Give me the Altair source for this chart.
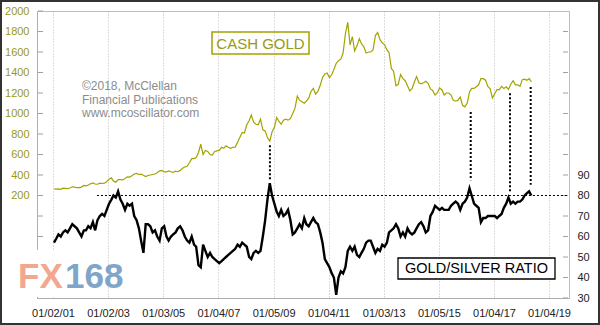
import altair as alt
import pandas as pd

# Monthly values, Jan 2001 .. May 2018
gold_prices = [
    266, 262, 264, 260, 272, 270, 267, 273, 285, 282, 276, 277,
    282, 298, 294, 303, 315, 322, 312, 310, 320, 317, 320, 335,
    358, 372, 340, 330, 356, 355, 352, 365, 382, 380, 392, 410,
    415, 405, 408, 398, 385, 395, 400, 405, 410, 422, 440, 445,
    430, 430, 440, 432, 425, 437, 432, 445, 465, 478, 485, 520,
    560, 560, 570, 620, 700, 600, 640, 630, 600, 595, 630, 635,
    640, 670, 660, 685, 670, 660, 670, 672, 720, 765, 815, 810,
    890, 930, 985, 915, 895, 890, 945, 840, 830, 765, 730, 820,
    865, 960, 925, 895, 935, 945, 935, 950, 1000, 1050, 1170, 1130,
    1115, 1100, 1120, 1150, 1215, 1245, 1190, 1215, 1275, 1350, 1385, 1395,
    1350, 1380, 1430, 1490, 1515, 1530, 1590, 1780, 1890, 1670, 1750, 1610,
    1660, 1730, 1680, 1650, 1590, 1600, 1600, 1620, 1760, 1790, 1720, 1690,
    1670, 1620, 1595, 1440, 1410, 1270, 1285, 1380, 1340, 1320, 1270, 1220,
    1245, 1310, 1360, 1300, 1290, 1300, 1315, 1295, 1240, 1225, 1180, 1200,
    1250, 1230, 1180, 1200, 1200, 1180, 1130, 1120, 1130, 1160, 1080, 1065,
    1100, 1210, 1245, 1245, 1260, 1280, 1340, 1340, 1325, 1265, 1240, 1150,
    1195, 1235, 1230, 1265, 1245, 1260, 1235, 1285, 1320, 1280, 1280, 1265,
    1330, 1335, 1325, 1340, 1310,
]
gs_ratio = [
    57, 59, 61, 60, 62, 63, 62, 64, 66, 65, 64, 62,
    60, 63, 63, 65, 64, 67, 63, 68, 70, 71, 70, 73,
    76, 78, 80, 79, 82, 78, 76, 73, 76, 75, 76, 70,
    68, 64, 58, 52, 66, 66, 65, 62, 63, 60, 58, 64,
    65, 60, 58, 60, 61, 62, 64, 65, 63, 60, 58, 57,
    60, 56, 55, 46, 45, 56, 53, 50, 52, 50, 49, 48,
    47, 48, 49, 50, 51, 52, 53, 54, 56, 55, 57, 56,
    55, 50, 49, 52, 53, 52, 53, 60, 68, 78, 86, 80,
    76, 72, 70, 73, 70, 71, 73, 68, 61, 62, 64, 66,
    64, 69, 66, 65, 67, 69, 67, 66, 62, 57, 49, 47,
    45, 42, 40, 31.5, 40, 43, 42, 45, 53, 55, 53, 55,
    51, 50, 52, 54, 57, 58, 58, 55, 52, 54, 53, 56,
    55, 57, 62, 63, 64, 66, 64, 60, 62, 60, 64, 62,
    61, 62, 64, 66, 67, 65, 62, 63, 70, 72, 75, 74,
    73, 74, 73, 73, 73, 75, 76, 77, 76, 73, 76, 77,
    79, 83.5, 80, 76, 75, 74, 67, 69, 69, 70, 70, 70,
    70, 69, 70, 71, 74, 76, 79, 76, 77, 76, 77, 77,
    78, 80, 81, 82, 80,
]
month_dates = [f"{2001 + i // 12}-{i % 12 + 1:02d}-15" for i in range(len(gold_prices))]

x_tick_dates = [(2001, 1, 2), (2003, 1, 2), (2005, 1, 3), (2007, 1, 4), (2009, 1, 5),
                (2011, 1, 4), (2013, 1, 3), (2015, 1, 5), (2017, 1, 4), (2019, 1, 4)]
gold_ticks = [-200, 0, 200, 400, 600, 800, 1000, 1200, 1400, 1600, 1800, 2000]
ratio_ticks = [30, 40, 50, 60, 70, 80, 90, 100, 110, 120, 130, 140, 150, 160]

# dotted link lines: date, gold level at top, ratio level at bottom
link_dates = ["2008-11-17", "2016-03-02", "2017-08-05", "2018-05-06"]
link_gold_top = [690, 1015, 1197, 1259]
link_ratio_bottom = [87.5, 87.5, 82, 85.3]
ratio_level = 80
ratio_level_start = "2002-08-08"

copyright_lines = ["\u00a92018, McClellan", "Financial Publications", "www.mcoscillator.com"]

OLIVE = "#a3a300"
OLIVE_TXT = "#9a9a10"
FONT = "Liberation Sans"

df = pd.DataFrame({"date": month_dates, "gold": gold_prices, "ratio": gs_ratio})

x_dom = [alt.DateTime(year=2000, month=6, date=4, utc=True),
         alt.DateTime(year=2019, month=9, date=26, utc=True)]
x_scale = alt.Scale(type="utc", domain=x_dom)
gold_scale = alt.Scale(domain=[-800, 2000], nice=False, zero=False)
ratio_scale = alt.Scale(domain=[30, 170], nice=False, zero=False)

x_axis = alt.Axis(
    values=[alt.DateTime(year=y, month=m, date=d, utc=True) for y, m, d in x_tick_dates],
    labelExpr="utcFormat(datum.value, '%m/%d/%y')",
    grid=True, gridDash=[1, 2], gridColor="#b8b8b8",
    ticks=False, labelPadding=9, domainColor="#a8b0a8", labelColor="#222222",
    labelFontSize=11, labelFont=FONT, title=None,
)

# white patch behind the watermark
patch = alt.Chart(pd.DataFrame({"k": [0]})).mark_rect(color="white").encode(
    x=alt.value(-27), x2=alt.value(23), y=alt.value(239), y2=alt.value(286)
)

gold_line = alt.Chart(df).mark_line(color=OLIVE, strokeWidth=1.2).encode(
    x=alt.X("date:T", scale=x_scale, axis=x_axis),
    y=alt.Y("gold:Q", scale=gold_scale, axis=alt.Axis(
        orient="left", values=gold_ticks, format="d",
        labelExpr="datum.value >= 200 ? datum.label : ''",
        ticks=False, grid=False, labelColor=OLIVE_TXT, labelPadding=8,
        labelFontSize=11, labelFont=FONT, domainColor="#a8b0a8", title=None)),
)

ratio_line = alt.Chart(df).mark_line(color="black", strokeWidth=2.4).encode(
    x=alt.X("date:T", scale=x_scale, axis=x_axis),
    y=alt.Y("ratio:Q", scale=ratio_scale, axis=alt.Axis(
        orient="right", values=ratio_ticks, format="d",
        labelExpr="datum.value <= 90 ? datum.label : ''",
        ticks=False, grid=False, labelColor="#222222", labelPadding=8,
        labelFontSize=11, labelFont=FONT, domainColor="#b8c0b8", title=None)),
)

left_ticks = alt.Chart(pd.DataFrame({"v": gold_ticks})).mark_rule(color="#a0a0a0").encode(
    x=alt.value(1), x2=alt.value(6), y=alt.Y("v:Q", scale=gold_scale, axis=None)
)
right_ticks = alt.Chart(pd.DataFrame({"v": ratio_ticks})).mark_rule(color="#a0a0a0").encode(
    x=alt.value(526), x2=alt.value(531), y=alt.Y("v:Q", scale=ratio_scale, axis=None)
)

level_line = alt.Chart(pd.DataFrame({"start": [ratio_level_start], "lvl": [ratio_level]})).mark_rule(
    color="black", strokeDash=[2, 2], strokeWidth=1
).encode(
    x=alt.X("start:T", scale=x_scale, axis=x_axis), x2=alt.value(532),
    y=alt.Y("lvl:Q", scale=ratio_scale, axis=None),
)

links = alt.Chart(pd.DataFrame({"date": link_dates, "top": link_gold_top, "bot": link_ratio_bottom})).transform_calculate(
    top_r="(datum.top + 1400) / 20"
).mark_rule(color="black", strokeDash=[2, 2], strokeWidth=2).encode(
    x=alt.X("date:T", scale=x_scale, axis=x_axis),
    y=alt.Y("top_r:Q", scale=ratio_scale, axis=None),
    y2="bot:Q",
)

gold_box = alt.Chart(pd.DataFrame({"k": [0]})).mark_rect(filled=False, stroke=OLIVE, strokeWidth=1.5).encode(
    x=alt.value(175), x2=alt.value(272), y=alt.value(21), y2=alt.value(43)
)
gold_label = alt.Chart(pd.DataFrame({"t": ["CASH GOLD"]})).mark_text(
    color=OLIVE_TXT, fontSize=15, font=FONT, align="center", baseline="middle"
).encode(text="t:N", x=alt.value(223.5), y=alt.value(32.5))

ratio_box = alt.Chart(pd.DataFrame({"k": [0]})).mark_rect(filled=False, stroke="black", strokeWidth=1.3, fill="white").encode(
    x=alt.value(361), x2=alt.value(518), y=alt.value(247), y2=alt.value(268)
)
ratio_label = alt.Chart(pd.DataFrame({"t": ["GOLD/SILVER RATIO"]})).mark_text(
    color="black", fontSize=14.5, font=FONT, align="center", baseline="middle"
).encode(text="t:N", x=alt.value(439.5), y=alt.value(258))

copy_text = alt.Chart(pd.DataFrame({"t": copyright_lines, "i": [0, 1, 2]})).mark_text(
    color="#8c8c8c", fontSize=12, font=FONT, align="left", baseline="middle"
).encode(text="t:N", x=alt.value(45),
         y=alt.Y("i:Q", scale=alt.Scale(domain=[0, 2], range=[75, 102], nice=False, zero=False), axis=None))

fx = alt.Chart(pd.DataFrame({"t": ["FX"]})).mark_text(
    color="#f2a890", fontSize=35, font=FONT, fontWeight="bold", align="left", baseline="alphabetic"
).encode(text="t:N", x=alt.value(-19), y=alt.value(277))
n168 = alt.Chart(pd.DataFrame({"t": ["168"]})).mark_text(
    color="#7fa5c8", fontSize=35, font=FONT, fontWeight="bold", align="left", baseline="alphabetic"
).encode(text="t:N", x=alt.value(28), y=alt.value(277))

frame = alt.Chart(pd.DataFrame({"k": [0]})).mark_rect(filled=False, stroke="#333333", strokeWidth=2).encode(
    x=alt.value(-36), x2=alt.value(562), y=alt.value(-10), y2=alt.value(313)
)

chart = alt.layer(
    patch, left_ticks, right_ticks, gold_line, level_line, links, ratio_line,
    gold_box, gold_label, ratio_box, ratio_label, copy_text, fx, n168, frame,
).resolve_scale(y="independent").properties(
    width=532, height=287,
    padding={"left": 37, "top": 11, "right": 31, "bottom": 27},
    autosize=alt.AutoSizeParams(type="none"),
    background="white",
).configure_view(stroke="#b8c0b8", strokeWidth=1)

chart.save("out.html", embed_options={"renderer": "svg", "actions": False})
